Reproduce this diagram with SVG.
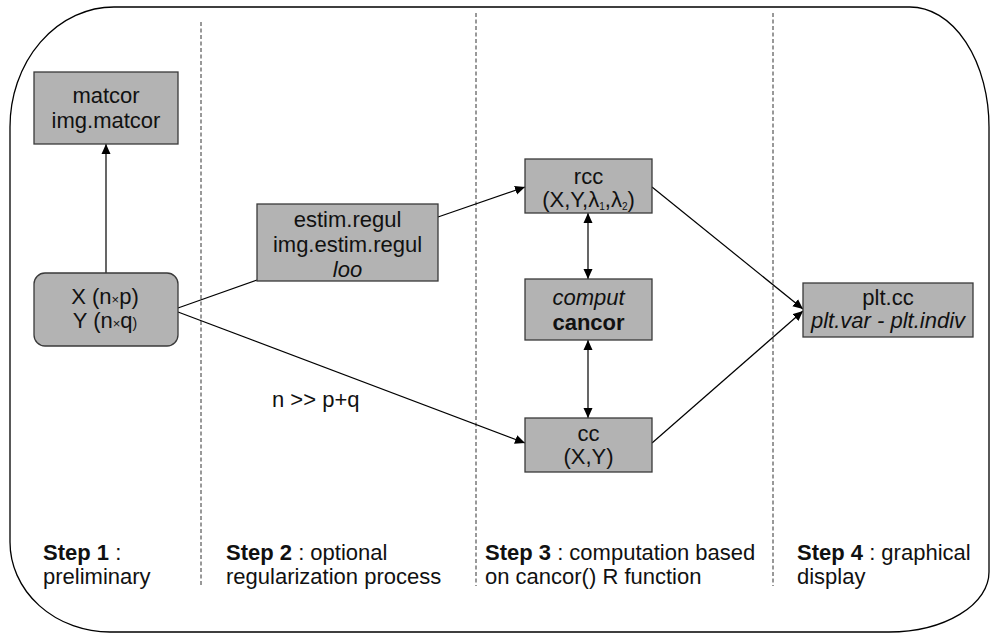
<svg xmlns="http://www.w3.org/2000/svg" width="991" height="637" viewBox="0 0 991 637">
<defs>
<marker id="ah" viewBox="0 0 10 10" refX="10" refY="5" markerWidth="10" markerHeight="10" markerUnits="userSpaceOnUse" orient="auto-start-reverse">
<path d="M0,0.5 L10,5 L0,9.5 Z" fill="#000"/>
</marker>
<style>
.box{fill:#b3b3b3;stroke:#3a3a3a;stroke-width:1.3}
.t{font-family:"Liberation Sans",Arial,sans-serif;font-size:22px;fill:#111;text-anchor:middle}
.s{font-family:"Liberation Sans",Arial,sans-serif;font-size:22px;fill:#111}
.c{stroke:#000;stroke-width:1.2;fill:none}
.d{stroke:#333;stroke-width:1;stroke-dasharray:4 2.5;fill:none}
</style>
</defs>
<path d="M114,7 H910 A79,120 0 0 1 989,127 V572 A100,60 0 0 1 889,632 H110 A100,90 0 0 1 10,542 V127 A104,120 0 0 1 114,7 Z" fill="none" stroke="#000" stroke-width="1.3"/>
<g id="dividers">
<line class="d" x1="201" y1="22" x2="201" y2="586"/>
<line class="d" x1="476" y1="13" x2="476" y2="586"/>
<line class="d" x1="773" y1="13" x2="773" y2="586"/>
</g>
<g id="connectors">
<line class="c" x1="106" y1="273" x2="106" y2="144" marker-end="url(#ah)"/>
<line class="c" x1="178" y1="308" x2="257" y2="280"/>
<line class="c" x1="438" y1="217" x2="525" y2="187" marker-end="url(#ah)"/>
<line class="c" x1="178" y1="312" x2="525" y2="443" marker-end="url(#ah)"/>
<line class="c" x1="588" y1="213" x2="588" y2="279" marker-start="url(#ah)" marker-end="url(#ah)"/>
<line class="c" x1="588" y1="340" x2="588" y2="418" marker-start="url(#ah)" marker-end="url(#ah)"/>
<line class="c" x1="652" y1="187" x2="803" y2="309" marker-end="url(#ah)"/>
<line class="c" x1="652" y1="443" x2="803" y2="311" marker-end="url(#ah)"/>
</g>
<g id="matcor">
<rect class="box" x="34" y="72" width="144" height="72"/>
<text class="t" x="106" y="103">matcor</text>
<text class="t" x="106" y="128">img.matcor</text>
</g>
<g id="xy">
<rect class="box" x="34" y="273" width="144" height="73" rx="11" ry="11"/>
<text class="t" x="105" y="304">X (n<tspan font-size="13">×</tspan>p)</text>
<text class="t" x="105" y="328">Y (n<tspan font-size="13">×</tspan>q<tspan font-size="14">)</tspan></text>
</g>
<g id="estim">
<rect class="box" x="257" y="204" width="181" height="77"/>
<text class="t" x="347.5" y="227">estim.regul</text>
<text class="t" x="347.5" y="252">img.estim.regul</text>
<text class="t" x="347.5" y="277" font-style="italic">loo</text>
</g>
<g id="rcc">
<rect class="box" x="525" y="159" width="127" height="54"/>
<text class="t" x="588.5" y="184">rcc</text>
<text class="t" x="588.5" y="207" font-size="15">(X,Y,λ<tspan font-size="10" dy="3">1</tspan><tspan dy="-3">,λ</tspan><tspan font-size="10" dy="3">2</tspan><tspan dy="-3">)</tspan></text>
</g>
<g id="comput">
<rect class="box" x="525" y="279" width="127" height="61"/>
<text class="t" x="588.5" y="305" font-style="italic">comput</text>
<text class="t" x="588.5" y="330" font-weight="bold">cancor</text>
</g>
<g id="cc">
<rect class="box" x="525" y="418" width="127" height="54"/>
<text class="t" x="588.5" y="441">cc</text>
<text class="t" x="588.5" y="464" font-size="15">(X,Y)</text>
</g>
<g id="pltcc">
<rect class="box" x="803" y="283" width="170" height="54"/>
<text class="t" x="888" y="305">plt.cc</text>
<text class="t" x="888" y="328" font-style="italic">plt.var - plt.indiv</text>
</g>
<text class="s" x="272" y="407">n &gt;&gt; p+q</text>
<g id="steps">
<text class="s" x="43" y="560"><tspan font-weight="bold">Step 1</tspan> :</text>
<text class="s" x="43" y="584">preliminary</text>
<text class="s" x="226" y="560"><tspan font-weight="bold">Step 2</tspan> : optional</text>
<text class="s" x="226" y="584">regularization process</text>
<text class="s" x="485" y="560"><tspan font-weight="bold">Step 3</tspan> : computation based</text>
<text class="s" x="485" y="584">on cancor() R function</text>
<text class="s" x="797" y="560"><tspan font-weight="bold">Step 4</tspan> : graphical</text>
<text class="s" x="797" y="584">display</text>
</g>
</svg>
